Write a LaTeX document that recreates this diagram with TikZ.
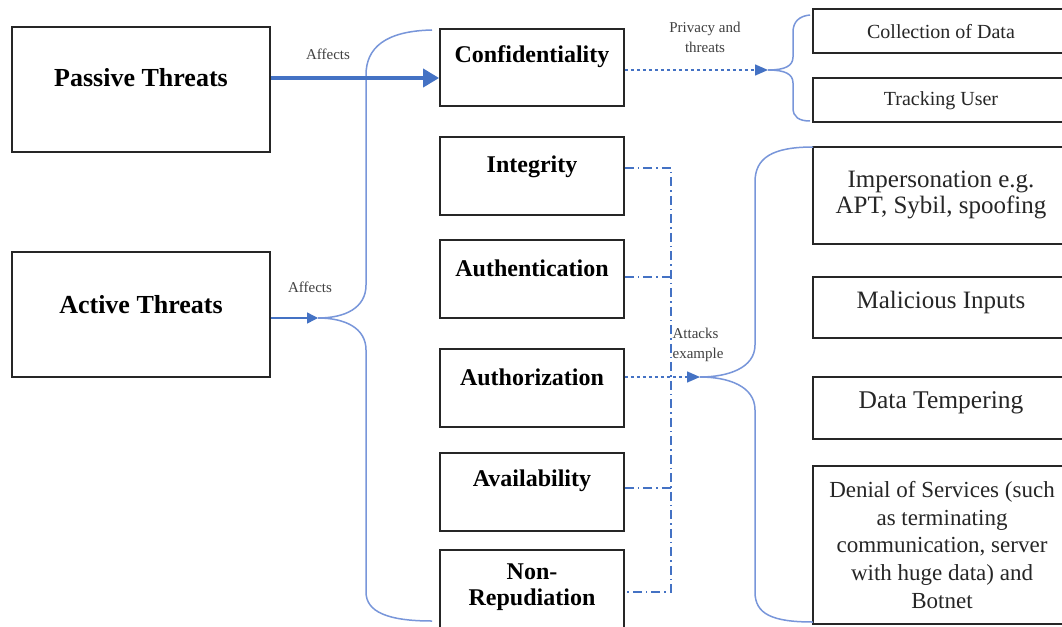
\documentclass[tikz,border=0pt]{standalone}
\usepackage{fontspec}
\setmainfont{Liberation Serif}
\usetikzlibrary{arrows.meta}
\definecolor{linkblue}{HTML}{4472C4}
\definecolor{bracecol}{HTML}{7896DA}
\tikzset{
  box/.style={draw=black!85, line width=1.8pt, fill=white, inner sep=0pt},
  ttl/.style={font=\fontsize{24}{28}\selectfont\bfseries, align=center, inner sep=0pt},
  big/.style={font=\fontsize{26}{30}\selectfont\bfseries, align=center, inner sep=0pt},
  item/.style={align=center, inner sep=0pt, text=black!85},
  note/.style={font=\fontsize{15}{20}\selectfont, align=center, inner sep=0pt, text=black!75},
  bracel/.style={draw=bracecol, line width=1.5pt},
  thick arrow/.style={draw=linkblue, line width=3.8pt, -{Triangle[length=16pt,width=18pt]}},
  thin arrow/.style={draw=linkblue, line width=1.5pt, -{Triangle[length=11pt,width=11pt]}},
  dotlink/.style={draw=linkblue, line width=1.4pt, dash pattern=on 3.5pt off 2.5pt},
  ddlink/.style={draw=linkblue, line width=1.6pt, dash pattern=on 9pt off 4pt on 1.5pt off 4pt},
  tipped/.style={-{Triangle[length=13pt,width=11pt,fill=linkblue]}},
}
\begin{document}
\begin{tikzpicture}[x=1pt,y=-1pt]
\useasboundingbox (0,0) rectangle (1062,626);
\clip (0,0) rectangle (1062,626);
\fill[white] (0,0) rectangle (1062,626);

% threat sources
\node[box, minimum width=258pt, minimum height=125pt] (passive) at (141,89.5) {};
\node[big] (passive-t) at (141,78) {Passive Threats};
\node[box, minimum width=258pt, minimum height=125pt] (active) at (141,314.5) {};
\node[big] (active-t) at (141,305) {Active Threats};

% security properties
\node[box, minimum width=184pt, minimum height=77pt] (conf) at (532,67.5) {};
\node[ttl] (conf-t) at (532,57) {Confidentiality};
\node[box, minimum width=184pt, minimum height=78pt] (integ) at (532,176) {};
\node[ttl] (integ-t) at (532,167) {Integrity};
\node[box, minimum width=184pt, minimum height=78pt] (authn) at (532,279) {};
\node[ttl] (authn-t) at (532,268) {Authentication};
\node[box, minimum width=184pt, minimum height=78pt] (authz) at (532,388) {};
\node[ttl] (authz-t) at (532,377) {Authorization};
\node[box, minimum width=184pt, minimum height=78pt] (avail) at (532,492) {};
\node[ttl] (avail-t) at (532,481) {Availability};
\node[box, minimum width=184pt, minimum height=84pt] (nonrep) at (532,592) {};
\node[ttl, font=\fontsize{24}{26}\selectfont\bfseries] (nonrep-t) at (532,587) {Non-\\Repudiation};

% privacy threats
\node[box, minimum width=257pt, minimum height=44pt] (coll) at (941.5,31) {};
\node[item, font=\fontsize{20}{24}\selectfont] (coll-t) at (941,32) {Collection of Data};
\node[box, minimum width=257pt, minimum height=44pt] (track) at (941.5,100) {};
\node[item, font=\fontsize{20}{24}\selectfont] (track-t) at (941,101) {Tracking User};

% attack examples
\node[box, minimum width=257pt, minimum height=97pt] (imp) at (941.5,195.5) {};
\node[item, font=\fontsize{25}{26}\selectfont] (imp-t) at (941,195) {Impersonation e.g.\\APT, Sybil, spoofing};
\node[box, minimum width=257pt, minimum height=61pt] (mal) at (941.5,307.5) {};
\node[item, font=\fontsize{25}{28}\selectfont] (mal-t) at (941,302) {Malicious Inputs};
\node[box, minimum width=257pt, minimum height=62pt] (tamp) at (941.5,408) {};
\node[item, font=\fontsize{25.5}{28}\selectfont] (tamp-t) at (941,403) {Data Tempering};
\node[box, minimum width=257pt, minimum height=158pt] (dos) at (941.5,545) {};
\node[item, font=\fontsize{23}{27.8}\selectfont] (dos-t) at (942,545) {Denial of Services (such\\as terminating\\communication, server\\with huge data) and\\Botnet};

% brace tips and link rows
\coordinate (b1tip) at (318,318);
\coordinate (b2tip) at (768,70);
\coordinate (b3tip) at (700,377);
\coordinate (pa) at (0,78);
\coordinate (busbot) at (671,592);
\coordinate (rowauthn) at (671,277);
\coordinate (rowavail) at (671,488);

% braces
\draw[bracel] (432,30) .. controls (385,31) and (366,48) .. (366,75) -- (366,285)
  .. controls (366,308) and (345,318) .. (b1tip)
  .. controls (345,318) and (366,328) .. (366,350) -- (366,592)
  .. controls (366,612) and (388,621) .. (432,621);
\draw[bracel] (810,15) .. controls (799,16) and (793,22) .. (793,32) -- (793,57)
  .. controls (793,66) and (785,70) .. (b2tip)
  .. controls (785,70) and (793,74) .. (793,83) -- (793,108)
  .. controls (793,117) and (799,121) .. (810,121);
\draw[bracel] (813,147) .. controls (772,147) and (755,158) .. (755,182) -- (755,345)
  .. controls (755,368) and (728,377) .. (b3tip)
  .. controls (728,377) and (755,386) .. (755,410) -- (755,592)
  .. controls (755,614) and (772,622) .. (813,622);

% effects of threats
\draw[thick arrow] (passive.east |- pa) -- (conf.west |- pa);
\node[note] (aff1) at (328,54) {Affects};
\draw[thin arrow] (active.east |- b1tip) -- (b1tip);
\node[note] (aff2) at (310,287) {Affects};

% privacy link
\draw[dotlink, tipped] (conf.east |- b2tip) -- (b2tip);
\node[note] (priv) at (705,37) {Privacy and\\threats};

% attack links
\draw[ddlink] ([yshift=8pt]integ.east) -| (busbot) -- (nonrep.east |- busbot);
\draw[ddlink] (authn.east |- rowauthn) -- (rowauthn);
\draw[ddlink] (avail.east |- rowavail) -- (rowavail);
\draw[dotlink, tipped] (authz.east |- b3tip) -- (b3tip);
\node[note, align=left] (att) at (698,345) {Attacks\\example};
\end{tikzpicture}
\end{document}
